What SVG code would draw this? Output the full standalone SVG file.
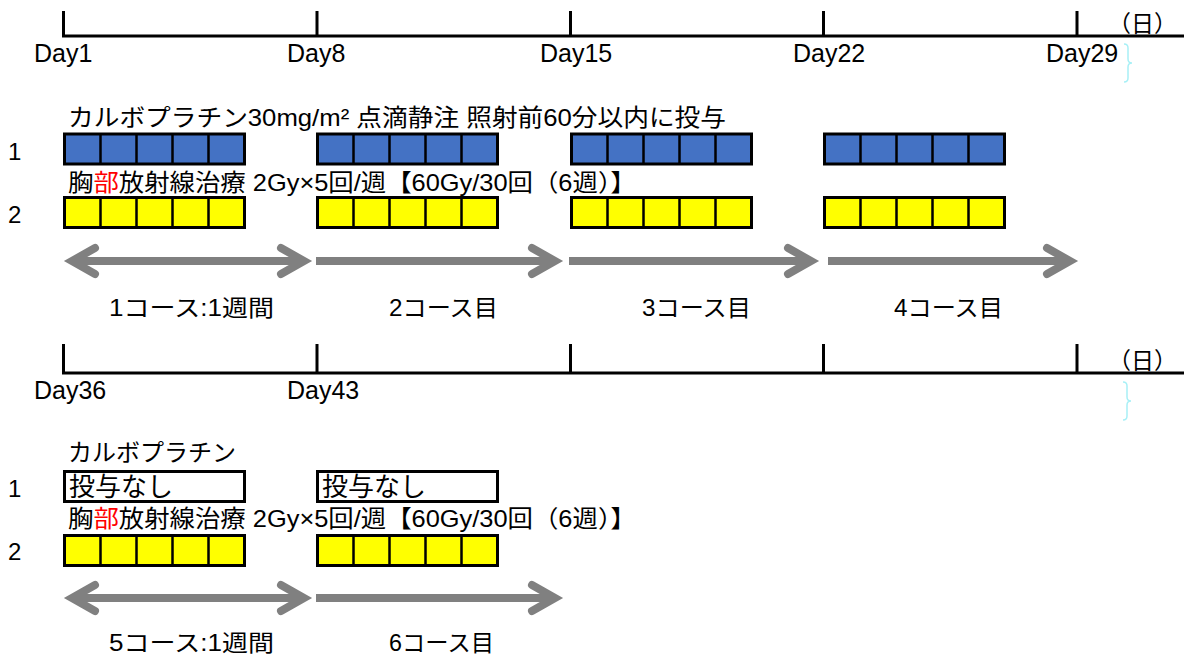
<svg xmlns="http://www.w3.org/2000/svg" width="1184" height="657" viewBox="0 0 1184 657">
<style>
.ax{stroke:#000;stroke-width:3;fill:none}
.day{font-family:"Liberation Sans",Arial,sans-serif;font-size:25px;fill:#000}
.jp{font-family:"Liberation Sans","Noto Sans CJK JP",sans-serif;fill:#000}
.lbl{font-size:24px}
.crs{font-size:23px}
.row{font-family:"Liberation Sans",Arial,sans-serif;font-size:24px;fill:#000}
.arr{stroke:#808080;stroke-width:8;fill:none}
.head{stroke:#808080;stroke-width:8;fill:none;stroke-linecap:round;stroke-linejoin:miter;stroke-miterlimit:10}
.brace{stroke:#a8f0f6;stroke-width:1.5;fill:none}
</style>
<defs>
<g id="bb"><rect x="0" y="0" width="180" height="30" fill="#4472C4" stroke="#000" stroke-width="3"/><path d="M36,0V30M72,0V30M108,0V30M144,0V30" stroke="#000" stroke-width="2.5"/></g>
<g id="yb"><rect x="0" y="0" width="180" height="30" fill="#FFFF00" stroke="#000" stroke-width="3"/><path d="M36,0V30M72,0V30M108,0V30M144,0V30" stroke="#000" stroke-width="2.5"/></g>
<rect id="wb" x="0" y="0" width="180" height="30" fill="#fff" stroke="#000" stroke-width="3"/>
</defs>
<rect width="1184" height="657" fill="#fff"/>

<g id="timeline1">
<path class="ax" d="M62,36H1184M63.5,11V36M317,11V36M570.5,11V36M823.5,11V36M1077,11V36"/>
<text class="day" x="34" y="62">Day1</text>
<text class="day" x="287" y="62">Day8</text>
<text class="day" x="540" y="62">Day15</text>
<text class="day" x="793" y="62">Day22</text>
<text class="day" x="1046" y="62">Day29</text>
<text class="jp" x="1108" y="32" font-size="23">（日）</text>
<path class="brace" d="M1124,44Q1128,44 1128,48V59Q1128,63 1132,63Q1128,63 1128,67V78Q1128,82 1124,82"/>
</g>

<g id="timeline2">
<path class="ax" d="M62,373H1184M63.5,344V373M317,344V373M570.5,344V373M823.5,344V373M1077,344V373"/>
<text class="day" x="34" y="399">Day36</text>
<text class="day" x="287" y="399">Day43</text>
<text class="jp" x="1108" y="369" font-size="23">（日）</text>
<path class="brace" d="M1123,382Q1127,382 1127,386V397Q1127,401 1131,401Q1127,401 1127,405V416Q1127,420 1123,420"/>
</g>

<g id="row-labels">
<text class="row" x="8" y="160">1</text>
<text class="row" x="8" y="223">2</text>
<text class="row" x="8" y="497">1</text>
<text class="row" x="8" y="560">2</text>
</g>

<g id="carboplatin-label">
<text class="jp lbl" x="68" y="126" textLength="658" lengthAdjust="spacingAndGlyphs">カルボプラチン30mg/m² 点滴静注 照射前60分以内に投与</text>
</g>
<g id="radiation-label-1">
<text class="jp lbl" x="68" y="191" textLength="568" lengthAdjust="spacingAndGlyphs">胸<tspan fill="#FF0000">部</tspan>放射線治療 2Gy×5回/週【60Gy/30回（6週）】</text>
</g>

<g id="blue-blocks">
<use href="#bb" x="64.5" y="134"/>
<use href="#bb" x="317.5" y="134"/>
<use href="#bb" x="571.5" y="134"/>
<use href="#bb" x="824.5" y="134"/>
</g>
<g id="yellow-blocks-1">
<use href="#yb" x="64.5" y="197.5"/>
<use href="#yb" x="317.5" y="197.5"/>
<use href="#yb" x="571.5" y="197.5"/>
<use href="#yb" x="824.5" y="197.5"/>
</g>

<g id="carboplatin-label-2">
<text class="jp lbl" x="68" y="461">カルボプラチン</text>
</g>
<g id="none-box-1">
<use href="#wb" x="64.5" y="471.5"/>
<text class="jp" x="69" y="496" font-size="26">投与なし</text>
</g>
<g id="none-box-2">
<use href="#wb" x="317.5" y="471.5"/>
<text class="jp" x="322" y="496" font-size="26">投与なし</text>
</g>
<g id="radiation-label-2">
<text class="jp lbl" x="68" y="527" textLength="568" lengthAdjust="spacingAndGlyphs">胸<tspan fill="#FF0000">部</tspan>放射線治療 2Gy×5回/週【60Gy/30回（6週）】</text>
</g>
<g id="yellow-blocks-2">
<use href="#yb" x="64.5" y="535.5"/>
<use href="#yb" x="317.5" y="535.5"/>
</g>

<g id="connectors">
<path class="arr" d="M72,261H304"/>
<polyline class="head" points="95,248 72,261 95,274"/>
<polyline class="head" points="281,248 304,261 281,274"/>
<path class="arr" d="M316,261H555"/>
<polyline class="head" points="532,248 555,261 532,274"/>
<path class="arr" d="M569,261H811"/>
<polyline class="head" points="788,248 811,261 788,274"/>
<path class="arr" d="M828,261H1070"/>
<polyline class="head" points="1047,248 1070,261 1047,274"/>
<path class="arr" d="M72,598H304"/>
<polyline class="head" points="95,585 72,598 95,611"/>
<polyline class="head" points="281,585 304,598 281,611"/>
<path class="arr" d="M316,598H555"/>
<polyline class="head" points="532,585 555,598 532,611"/>
</g>

<g id="course-labels">
<text class="jp crs" x="109" y="316" textLength="165" lengthAdjust="spacingAndGlyphs">1コース:1週間</text>
<text class="jp crs" x="389" y="316" textLength="109" lengthAdjust="spacingAndGlyphs">2コース目</text>
<text class="jp crs" x="642" y="316" textLength="109" lengthAdjust="spacingAndGlyphs">3コース目</text>
<text class="jp crs" x="894" y="316" textLength="109" lengthAdjust="spacingAndGlyphs">4コース目</text>
<text class="jp crs" x="109" y="651" textLength="165" lengthAdjust="spacingAndGlyphs">5コース:1週間</text>
<text class="jp crs" x="389" y="651" textLength="105" lengthAdjust="spacingAndGlyphs">6コース目</text>
</g>
</svg>
